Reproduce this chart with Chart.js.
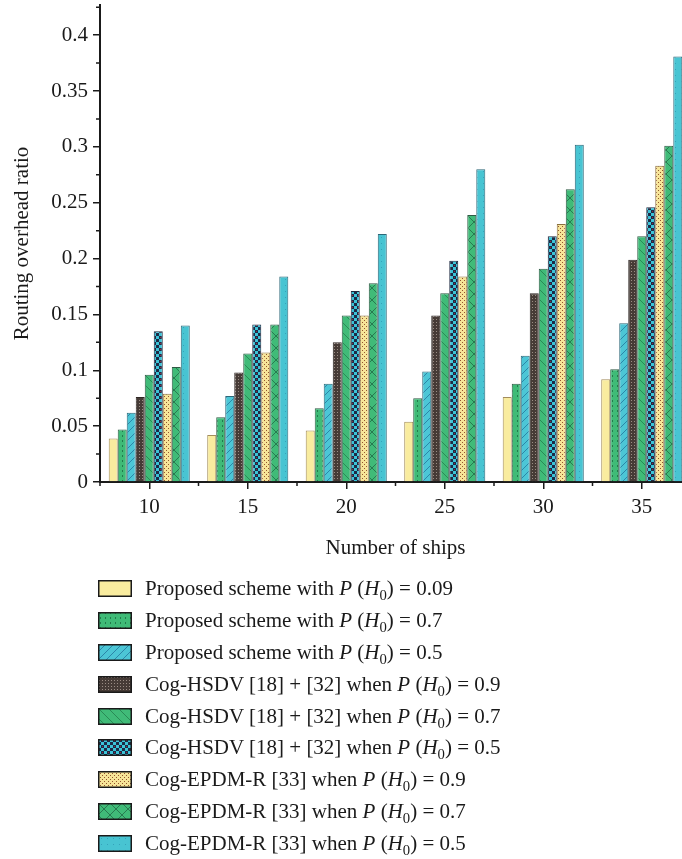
<!DOCTYPE html>
<html>
<head>
<meta charset="utf-8">
<script src="https://cdn.jsdelivr.net/npm/chart.js@4.4.1/dist/chart.umd.min.js"></script>
<style>
    html, body { margin: 0; padding: 0; background: #fff; overflow: hidden; }
    #wrap { position: relative; width: 700px; height: 570px; }
    #legend { position: absolute; left: 98px; top: 573px; font-family: "Liberation Serif", serif; font-size: 21px; color: #1a1a1a; }
    .row { height: 31.8px; display: flex; align-items: center; white-space: nowrap; }
    .row canvas { width: 34px; height: 17px; margin-right: 13px; }
    sub { font-size: 0.7em; vertical-align: -0.35em; line-height: 0; }
</style>
</head>
<body>
<div id="wrap"><canvas id="myChart" width="700" height="570"></canvas></div>
<div id="legend"></div>
<script>
// number of ships on the x axis
const shipCounts = ["10", "15", "20", "25", "30", "35"];

// routing overhead ratio
const proposed09 = [0.039, 0.042, 0.046, 0.054, 0.076, 0.092];
const proposed07 = [0.047, 0.058, 0.066, 0.075, 0.088, 0.101];
const proposed05 = [0.062, 0.077, 0.088, 0.099, 0.113, 0.142];
const hsdv09 = [0.076, 0.098, 0.125, 0.149, 0.169, 0.199];
const hsdv07 = [0.096, 0.115, 0.149, 0.169, 0.191, 0.220];
const hsdv05 = [0.135, 0.141, 0.171, 0.198, 0.220, 0.246];
const epdm09 = [0.079, 0.116, 0.149, 0.184, 0.231, 0.283];
const epdm07 = [0.103, 0.141, 0.178, 0.239, 0.262, 0.301];
const epdm05 = [0.140, 0.184, 0.222, 0.280, 0.302, 0.381];

const seriesNames = [
    "Proposed scheme with",
    "Proposed scheme with",
    "Proposed scheme with",
    "Cog-HSDV [18] + [32] when",
    "Cog-HSDV [18] + [32] when",
    "Cog-HSDV [18] + [32] when",
    "Cog-EPDM-R [33] when",
    "Cog-EPDM-R [33] when",
    "Cog-EPDM-R [33] when",
];
const seriesProbs = ["0.09", "0.7", "0.5", "0.9", "0.7", "0.5", "0.9", "0.7", "0.5"];

// y ticks
const yTicks = [0, 0.05, 0.1, 0.15, 0.2, 0.25, 0.3, 0.35, 0.4];
const yMinorTicks = [0.025, 0.075, 0.125, 0.175, 0.225, 0.275, 0.325, 0.375, 0.425];

// make a little tile pattern
function makePattern(w, h, draw) {
    var c = document.createElement("canvas");
    c.width = w;
    c.height = h;
    var g = c.getContext("2d");
    draw(g, w, h);
    return document.createElement("canvas").getContext("2d").createPattern(c, "repeat");
}

function diag(g, w, h, color, dir) {
    g.strokeStyle = color;
    g.lineWidth = 1;
    g.beginPath();
    if (dir > 0) {
        g.moveTo(-1, h + 1); g.lineTo(w + 1, -1);
        g.moveTo(-1 - w, h + 1); g.lineTo(1, -1);
        g.moveTo(w - 1, h + 1); g.lineTo(2 * w + 1, -1);
    } else {
        g.moveTo(-1, -1); g.lineTo(w + 1, h + 1);
        g.moveTo(-1 - w, -1); g.lineTo(1, h + 1);
        g.moveTo(w - 1, -1); g.lineTo(2 * w + 1, h + 1);
    }
    g.stroke();
}

var patterns = [
    // plain yellow
    makePattern(4, 4, function (g, w, h) {
        g.fillStyle = "#f9ec9f"; g.fillRect(0, 0, w, h);
    }),
    // green with dashes
    makePattern(5, 5, function (g, w, h) {
        g.fillStyle = "#3fbb77"; g.fillRect(0, 0, w, h);
        g.fillStyle = "#237a4c"; g.fillRect(2, 0, 1, 2);
    }),
    // cyan with /// hatch
    makePattern(8, 8, function (g, w, h) {
        g.fillStyle = "#4cc6d6"; g.fillRect(0, 0, w, h);
        diag(g, w, h, "#2b86a8", 1);
    }),
    // dark brown with grey dots
    makePattern(3, 3, function (g, w, h) {
        g.fillStyle = "#463b36"; g.fillRect(0, 0, w, h);
        g.fillStyle = "#9b8d84"; g.fillRect(1, 1, 1, 1);
    }),
    // green with \\\ hatch
    makePattern(10, 10, function (g, w, h) {
        g.fillStyle = "#40bb78"; g.fillRect(0, 0, w, h);
        diag(g, w, h, "#2a8a56", -1);
    }),
    // checker board, cyan on navy
    makePattern(6, 6, function (g, w, h) {
        g.fillStyle = "#1d2a46"; g.fillRect(0, 0, w, h);
        g.fillStyle = "#3cc4d8"; g.fillRect(0, 0, 3, 3); g.fillRect(3, 3, 3, 3);
        g.fillStyle = "#8a3040"; g.fillRect(4, 1, 1, 1);
    }),
    // pale yellow with brown dots
    makePattern(4, 4, function (g, w, h) {
        g.fillStyle = "#f7e598"; g.fillRect(0, 0, w, h);
        g.fillStyle = "#94542e"; g.fillRect(0, 0, 1, 1); g.fillRect(2, 2, 1, 1);
    }),
    // green with cross hatch
    makePattern(12, 12, function (g, w, h) {
        g.fillStyle = "#40bb78"; g.fillRect(0, 0, w, h);
        diag(g, w, h, "#287a50", 1);
        diag(g, w, h, "#287a50", -1);
    }),
    // cyan with faint dots
    makePattern(6, 6, function (g, w, h) {
        g.fillStyle = "#48c4d2"; g.fillRect(0, 0, w, h);
        g.fillStyle = "#35a2ba"; g.fillRect(3, 3, 1, 1);
    }),
];

var borders = ["#a38d5c", "#2e5a44", "#2c6878", "#2e2624", "#2e5a44", "#1e2a40", "#8a7040", "#2e5a44", "#2c6878"];
var seriesData = [proposed09, proposed07, proposed05, hsdv09, hsdv07, hsdv05, epdm09, epdm07, epdm05];

// draws the short minor tick marks on both axes
const minorTicks = {
    id: "minorTicks",
    afterDraw(chart) {
        var ctx = chart.ctx;
        var x = chart.scales.x;
        var y = chart.scales.y;
        ctx.save();
        ctx.strokeStyle = "#1a1a1a";
        ctx.lineWidth = 1.5;
        ctx.beginPath();
        yMinorTicks.forEach(function (v) {
            var py = y.getPixelForValue(v);
            ctx.moveTo(y.right - 4, py);
            ctx.lineTo(y.right, py);
        });
        var half = (x.getPixelForValue(1) - x.getPixelForValue(0)) / 2;
        for (var i = 0; i <= shipCounts.length; i++) {
            var px = x.getPixelForValue(0) - half + i * half * 2;
            ctx.moveTo(px, x.top);
            ctx.lineTo(px, x.top + 4);
        }
        ctx.stroke();
        ctx.restore();
    },
};

const data = {
    labels: shipCounts,
    datasets: seriesData.map(function (d, i) {
        return {
            label: seriesNames[i] + " P (H0) = " + seriesProbs[i],
            data: d,
            backgroundColor: patterns[i],
            borderColor: borders[i],
            borderWidth: 1,
            borderSkipped: "bottom",
            categoryPercentage: 0.823,
            barPercentage: 1,
        };
    }),
};

const axisFont = { family: "Liberation Serif", size: 21 };

const config = {
    type: "bar",
    data,
    options: {
        responsive: false,
        animation: false,
        layout: { padding: { top: 5, right: 9, left: 0, bottom: 0 } },
        plugins: { legend: { display: false }, tooltip: { enabled: false } },
        scales: {
            x: {
                grid: { display: true, drawOnChartArea: false, offset: false, tickLength: 7, color: "#1a1a1a", lineWidth: 1.5 },
                border: { display: true, color: "#1a1a1a", width: 2 },
                ticks: { font: axisFont, color: "#1a1a1a", padding: 6 },
                title: { display: true, text: "Number of ships", font: axisFont, color: "#1a1a1a", padding: { top: 0, bottom: 9 } },
                afterFit: function (s) { s.height = 88; },
            },
            y: {
                min: 0,
                max: 0.427,
                grid: { display: true, drawOnChartArea: false, tickLength: 7, color: "#1a1a1a", lineWidth: 1.5 },
                border: { display: true, color: "#1a1a1a", width: 2 },
                ticks: {
                    font: axisFont,
                    color: "#1a1a1a",
                    padding: 5,
                    callback: function (v) { return String(Number(v.toFixed(2))); },
                },
                afterBuildTicks: function (s) {
                    s.ticks = yTicks.map(function (v) { return { value: v }; });
                },
                title: { display: true, text: "Routing overhead ratio", font: axisFont, color: "#1a1a1a", padding: { top: 10, bottom: 0 } },
                afterFit: function (s) {
                    s.width = 100;
                    s.paddingTop = 0;
                    s.paddingBottom = 0;
                },
            },
        },
    },
    plugins: [minorTicks],
};

var myChart = new Chart(document.getElementById("myChart"), config);

// html legend so the subscripts stay as real text
var legend = document.getElementById("legend");
seriesNames.forEach(function (name, i) {
    var row = document.createElement("div");
    row.className = "row";
    var box = document.createElement("canvas");
    box.width = 34;
    box.height = 17;
    var g = box.getContext("2d");
    g.fillStyle = patterns[i];
    g.fillRect(0, 0, 34, 17);
    g.strokeStyle = "#1a1a1a";
    g.lineWidth = 1.5;
    g.strokeRect(0.75, 0.75, 32.5, 15.5);
    row.appendChild(box);
    var txt = document.createElement("span");
    txt.innerHTML = name + " <i>P</i> (<i>H</i><sub>0</sub>) = " + seriesProbs[i];
    row.appendChild(txt);
    legend.appendChild(row);
});
</script>
</body>
</html>
